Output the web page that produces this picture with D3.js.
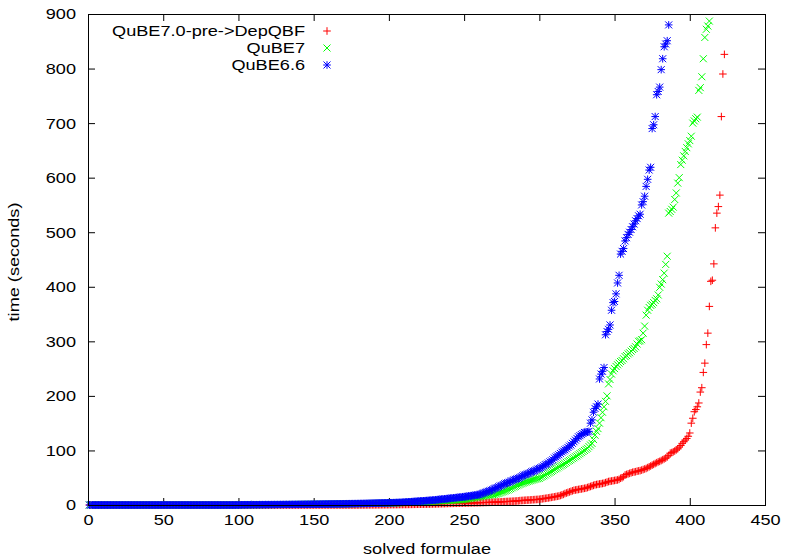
<!DOCTYPE html>
<html><head><meta charset="utf-8">
<script src="https://cdn.jsdelivr.net/npm/d3@7"></script>
<style>body{margin:0;background:#fff}svg{display:block}text{font-family:"Liberation Sans",Arial,sans-serif;font-size:15.5px;fill:#000}</style>
</head><body>
<script>
// ---- data (sorted solving times; x = number of solved formulae) ----
const seriesNames = ["QuBE7.0-pre->DepQBF", "QuBE7", "QuBE6.6"];
const xTicks = [0,50,100,150,200,250,300,350,400,450];
const yTicks = [0,100,200,300,400,500,600,700,800,900];
const xLabel = "solved formulae";
const yLabel = "time (seconds)";

const depqbfTimes = [
0,0,0,0,0,0,0,0,0,0, 0,0,0,0,0,0,0,0,0,0, 0,0,0,0,0,0,0,0,0,0, 0,0,0,0,0,0,0,0,0,0,
0,0,0,0,0,0,0,0,0,0, 0,0,0,0,0,0,0,0,0,0, 0,0,0,0,0,0,0,0,0,0, 0,0,0,0,0,0,0,0,0,0,
0,0,0,0,0,0,0,0,0,0, 0,0,0,0,0,0,0,0,0,0, 0,0,0,0,0,0,0,0,0,0, 0,0,0,0,0,0,0,0,0,0,
0,0,0,0,0,0,0,0,0,0, 0,0,0,0,0,0,0,0,0,0, 0,0,0,0,0,0,0,0,0,0, 0,0,0,0,0,0,0,0,0,0,
0,0,0,0,0,0,0,0,0,0, 0,0,0,0,0,0,0,0,0,0,
0.1,0.1,0.1,0.2,0.2,0.2,0.2,0.3,0.3,0.3, 0.3,0.4,0.4,0.4,0.5,0.5,0.5,0.6,0.6,0.6,
0.7,0.7,0.7,0.8,0.8,0.8,0.9,0.9,0.9,1, 1,1,1.1,1.1,1.2,1.2,1.3,1.3,1.4,1.4,
1.5,1.5,1.6,1.6,1.7,1.7,1.8,1.8,1.9,2, 2,2.1,2.2,2.3,2.4,2.5,2.6,2.7,2.8,2.9,
3,3,3.1,3.2,3.2,3.3,3.4,3.4,3.5,3.6, 3.6,3.7,3.8,3.8,3.9,4,4,4.1,4.2,4.2,
4.3,4.4,4.5,4.6,4.7,4.8,4.9,5,5.1,5.2, 5.3,5.4,5.5,5.6,5.8,6,6.1,6.3,6.4,6.6,
6.7,6.9,7,7.2,7.4,7.6,8,8.2,8.4,8.6, 8.8,9,9.1,9.3,9.5,9.7,9.9,10.1,10.3,10.5,
11,11.4,11.8,12.2,12.6,13,13.5,14,14.5,15, 15.5,16,16.5,17.5,18.5,19.5,21,22,23,24,
25,26,27,27.5,28,28.5,29,29.5,30,30.6, 31,32,33,34,35,36,37,
37.5,38,38.5,39,39.5,40,41,42,43,43.5,44,44.5,45,45.5,46,47,
49,50,52,55,56,57,58,59,60,60.5,61,
62,62.5,63,64,65,66,67,68.5,70,71.5,73,
74.5,76,77.5,79,80,81.5,83,84.5,86,88,91,95,
96,97.5,99,101,103,106,109,113,116,119,122,126,132,
150,159,171,175,180,187,207,215,243,260,294,315,364,410,412,442,508,535,547,568,712,790,826
];

const qube7Times = [
0,0,0,0,0,0,0,0,0,0, 0,0,0,0,0,0,0,0,0,0, 0,0,0,0,0,0,0,0,0,0, 0,0,0,0,0,0,0,0,0,0,
0,0,0,0,0,0,0,0,0,0, 0,0,0,0,0,0,0,0,0,0, 0,0,0,0,0,0,0,0,0,0, 0,0,0,0,0,0,0,0,0,0,
0,0,0,0,0,0,0,0,0,0, 0,0,0,0,0,0,0,0,0,0,
0.2,0.2,0.2,0.3,0.3,0.3,0.3,0.4,0.4,0.4, 0.4,0.5,0.5,0.5,0.5,0.6,0.6,0.6,0.6,0.7,
0.7,0.7,0.7,0.8,0.8,0.8,0.8,0.9,0.9,0.9, 0.9,1,1,1,1,1,1.1,1.1,1.1,1.1,
1.2,1.2,1.2,1.2,1.3,1.3,1.3,1.3,1.4,1.4, 1.4,1.4,1.5,1.5,1.5,1.6,1.6,1.6,1.7,1.7,
1.7,1.8,1.8,1.8,1.9,1.9,2,2,2,2.1, 2.1,2.1,2.2,2.2,2.3,2.3,2.3,2.4,2.4,2.5,
2.5,2.6,2.6,2.6,2.7,2.7,2.8,2.8,2.9,2.9, 3,3,3,3.1,3.1,3.2,3.2,3.3,3.3,3.4,
3.5,3.6,3.7,3.8,3.9,4,4.1,4.2,4.3,4.4, 4.5,4.6,4.7,4.8,4.9,5,5.1,5.2,5.3,5.4,
5.5,5.6,5.8,6,6.2,6.4,6.6,6.8,7,7.2, 7.4,7.5,7.6,7.7,7.8,7.9,8,8.1,8.2,8.3,
8.4,8.6,8.8,9,9.2,9.4,9.6,9.8,9.9,10, 10.5,11,11.5,12,12.5,13,13.5,14,14.5,15,
15.5,16,16.5,17,17.5,18,18.3,18.6,18.9,19.2, 20,20.7,21.4,22.5,23.5,24.5,25.5,26.5,27.5,29,
30,31.5,33,34,35.5,36.7,38,39,40,41, 42,43,43.8,44.6,45.4,46.2,47,47.8,48.4,49,
50.5,52,53.5,55,57,58.5,60,61.5,63,65, 66.5,68,70,71.5,73,74.5,76,78,80,81.5,
83,85,86.5,88.5,90,92,94,96,98,100, 102,104,107,110,113,
120,128,135,140,150,160,170,180,190,200,
222,230,240,246,250,254,257,260,263,265,268,272,274,277,279,282,285,287,
290,295,300,301,303,315,328,348,357,362,366,368,371,375,378,385,399,405,413,425,441,456,
535,538,542,546,560,572,590,600,
624,632,640,648,655,662,668,676,700,704,708,711,760,765,785,818,857,872,878,887
];

const qube66Times = [
0,0,0,0,0,0,0,0,0,0, 0,0,0,0,0,0,0,0,0,0, 0,0,0,0,0,0,0,0,0,0, 0,0,0,0,0,0,0,0,0,0,
0,0,0,0,0,0,0,0,0,0, 0,0,0,0,0,0,0,0,0,0, 0,0,0,0,0,0,0,0,0,0, 0,0,0,0,0,0,0,0,0,0,
0,0,0,0,0,0,0,0,0,0, 0,0,0,0,0,0,0,0,0,0,
0.3,0.3,0.3,0.4,0.4,0.4,0.4,0.5,0.5,0.5, 0.5,0.5,0.5,0.6,0.6,0.6,0.6,0.7,0.7,0.7,
0.7,0.7,0.8,0.8,0.8,0.8,0.9,0.9,0.9,0.9, 1,1,1,1,1,1,1,1.1,1.1,1.1,
1.1,1.2,1.2,1.2,1.2,1.3,1.3,1.3,1.4,1.4, 1.4,1.5,1.5,1.5,1.6,1.6,1.6,1.7,1.7,1.8,
1.8,1.8,1.9,1.9,2,2,2,2.1,2.1,2.2, 2.2,2.3,2.3,2.4,2.4,2.5,2.5,2.6,2.6,2.7,
2.7,2.8,2.8,2.9,2.9,3,3,3.1,3.2,3.3, 3.3,3.4,3.5,3.5,3.6,3.7,3.8,3.8,3.9,4,
4.1,4.2,4.3,4.4,4.5,4.6,4.7,4.8,4.9,5, 5.2,5.4,5.6,5.8,6,6.2,6.4,6.6,6.8,7,
7.2,7.4,7.6,7.8,8,8.2,8.4,8.6,8.8,9, 9.3,9.6,9.9,10.2,10.5,10.8,11.1,11.4,11.7,12,
12.3,12.6,12.9,13.2,13.5,13.8,14.1,14.4,14.7,15, 15.4,15.8,16.2,16.6,17,17.4,17.8,18.2,18.6,19,
20,21,22,23,24,25,26,27,28.5,30, 31,32,33.5,35,36,37.5,39,40,41,42,
43.5,44.5,46,47,48,49,50.5,52,53.5,55, 56,57,58,59.5,61,62,63,64.5,66,67,
68.5,70,72,74,75,77,79,81,83,86, 88,90,92,94.5,97,99,101,103,105.5,108,
110,113,116,119,122,125,127,129,131,133,
133,134,135,150,156,170,177,180,185,231,240,245,252,
312,318,322,330,357,371,373,387,407,421,460,465,470,484,490,496,500,505,510,515,521,525,530,533,550,556,566,
584,597,614,619,690,697,712,752,758,766,798,818,840,845,851,880
];

const seriesData = [depqbfTimes, qube7Times, qube66Times];
const seriesColors = ["#ff0000", "#00ff00", "#0000ff"];
const seriesMarkers = ["plus", "cross", "star"];

// ---- drawing ----
const W = 787, H = 560, SX = 1.17;
const svg = d3.select("body").append("svg").attr("width", W).attr("height", H);
const x = d3.scaleLinear().domain([0, 450]).range([88, 765]);
const y = d3.scaleLinear().domain([0, 900]).range([505, 14]);

function markerPath(kind, cx, cy) {
  const a = 3.8, b = 3.5;
  const plus = `M${cx - a},${cy}H${cx + a}M${cx},${cy - a}V${cy + a}`;
  const cross = `M${cx - b},${cy - b}L${cx + b},${cy + b}M${cx - b},${cy + b}L${cx + b},${cy - b}`;
  if (kind === "plus") return plus;
  if (kind === "cross") return cross;
  return plus + cross;
}

function stretchText(sel) {
  sel.each(function () {
    const t = d3.select(this);
    const tx = +t.attr("x") || 0, ty = +t.attr("y") || 0;
    t.attr("x", 0).attr("y", 0).attr("transform", `translate(${tx},${ty}) scale(${SX},1)`);
  });
}

// axes (inward ticks, mirrored)
const gl = svg.append("g").attr("transform", `translate(${x.range()[0]},0)`)
  .call(d3.axisLeft(y).tickValues(yTicks).tickSize(-7).tickPadding(12));
const gb = svg.append("g").attr("transform", `translate(0,${y.range()[0]})`)
  .call(d3.axisBottom(x).tickValues(xTicks).tickSize(-7).tickPadding(9));
const gt = svg.append("g").attr("transform", `translate(0,${y.range()[1]})`)
  .call(d3.axisTop(x).tickValues(xTicks).tickSize(-7).tickFormat(""));
const gr = svg.append("g").attr("transform", `translate(${x.range()[1]},0)`)
  .call(d3.axisRight(y).tickValues(yTicks).tickSize(-7).tickFormat(""));
[gl, gb, gt, gr].forEach(g => {
  g.select(".domain").remove();
  g.selectAll("line").attr("stroke", "#000");
  g.selectAll("text").attr("font-size", null).attr("font-family", null).attr("fill", "#000");
});
gl.selectAll("text").each(function(){ const t=d3.select(this); t.attr("y", 0); });
stretchText(gl.selectAll(".tick text"));
stretchText(gb.selectAll(".tick text"));

// points
seriesData.forEach((vals, si) => {
  svg.append("path")
    .attr("d", vals.map((v, i) => markerPath(seriesMarkers[si], x(i + 1), y(v))).join(""))
    .attr("fill", "none").attr("stroke", seriesColors[si]).attr("stroke-width", 1);
});

// border on top
svg.append("rect").attr("x", x.range()[0] + 0.5).attr("y", y.range()[1] + 0.5)
  .attr("width", x.range()[1] - x.range()[0]).attr("height", y.range()[0] - y.range()[1])
  .attr("fill", "none").attr("stroke", "#000").attr("stroke-width", 1);

// legend
const legY = [31, 48, 65];
seriesNames.forEach((name, si) => {
  svg.append("text").attr("text-anchor", "end").attr("dy", "0.35em")
    .attr("transform", `translate(305,${legY[si]}) scale(${SX},1)`).text(name);
  svg.append("path").attr("d", markerPath(seriesMarkers[si], 327, legY[si]))
    .attr("fill", "none").attr("stroke", seriesColors[si]).attr("stroke-width", 1);
});

// axis titles
svg.append("text").attr("text-anchor", "middle")
  .attr("transform", `translate(427,554) scale(${SX},1)`).text(xLabel);
svg.append("text").attr("text-anchor", "middle")
  .attr("transform", `translate(19,262) rotate(-90) scale(${SX},1)`).text(yLabel);
</script>
</body></html>
